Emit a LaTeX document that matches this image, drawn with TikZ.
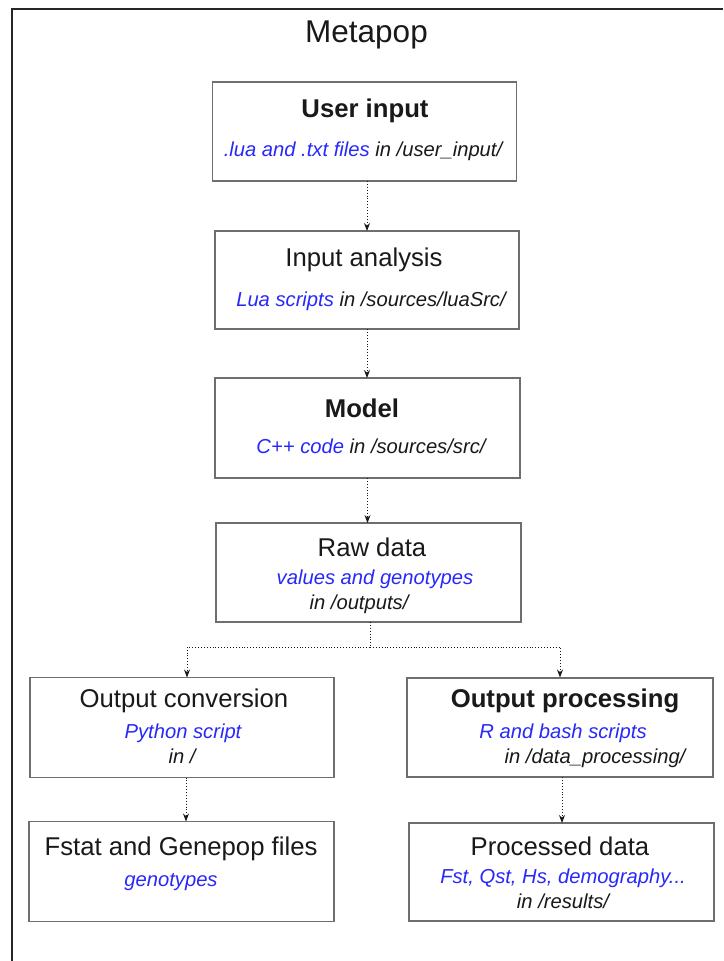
\documentclass[tikz,border=0pt]{standalone}
\usepackage{fontspec}
\setmainfont{Liberation Sans}
\usetikzlibrary{arrows.meta,calc}
\definecolor{linkblue}{RGB}{40,40,250}
\definecolor{boxgray}{RGB}{110,110,110}
\definecolor{txtdark}{RGB}{25,25,25}
\tikzset{
  stage/.style={draw=boxgray, line width=1.3pt, fill=white, rectangle,
                inner sep=0pt, outer sep=0pt},
  head/.style={anchor=base, inner sep=0pt, text=txtdark,
               font=\fontsize{25.7}{30}\selectfont},
  headbold/.style={head, font=\fontsize{25.7}{30}\selectfont\bfseries},
  note/.style={anchor=base, inner sep=0pt, text=txtdark,
               font=\fontsize{20.2}{24}\selectfont\itshape},
  flow/.style={draw=txtdark, line width=0.9pt, dotted,
               -{Stealth[length=8pt,width=6pt]}},
  flowline/.style={draw=txtdark, line width=0.9pt, dotted},
}
\newcommand{\hl}[1]{\textcolor{linkblue}{#1}}
\begin{document}
\begin{tikzpicture}[x=1pt,y=-1pt]
\useasboundingbox (0,0) rectangle (723,961);
% outer frame (open on the right and at the bottom)
\draw[line width=1.6pt, draw=black!85] (12,961) -- (12,9) -- (723,9);
\node[anchor=base, inner sep=0pt, text=txtdark,
      font=\fontsize{31.5}{36}\selectfont] (title) at (366.5,42) {Metapop};

% stages
\node[stage, minimum width=304pt, minimum height=99pt] (ui) at (364.5,131.5) {};
\node[stage, minimum width=304pt, minimum height=98pt] (ia) at (367,280) {};
\node[stage, minimum width=305pt, minimum height=100pt] (md) at (367.5,428) {};
\node[stage, minimum width=305pt, minimum height=99pt] (rd) at (368.5,572.5) {};
\node[stage, minimum width=304pt, minimum height=100pt] (oc) at (182,727.5) {};
\node[stage, minimum width=306pt, minimum height=99pt] (op) at (560,727.5) {};
\node[stage, minimum width=305pt, minimum height=100pt] (fs) at (181.5,871.5) {};
\node[stage, minimum width=305pt, minimum height=98pt] (pd) at (561.5,872) {};

% texts
\node[headbold] (uiT) at (365,117.5) {User input};
\node[note] (uiS) at (363,156.5) {\hl{.lua and .txt files} in /user\_input/};

\node[head] (iaT) at (364,266) {Input analysis};
\node[note] (iaS) at (371,306) {\hl{Lua scripts} in /sources/luaSrc/};

\node[headbold] (mdT) at (362,417) {Model};
\node[note] (mdS) at (371,453) {\hl{C++ code} in /sources/src/};

\node[head] (rdT) at (372,556) {Raw data};
\node[note] (rdS) at (375,584) {\hl{values and genotypes}};
\node[note] (rdS2) at (359,609) {in /outputs/};

\node[head] (ocT) at (184,707.5) {Output conversion};
\node[note] (ocS) at (183,738) {\hl{Python script}};
\node[note] (ocS2) at (182,763) {in /};

\node[headbold] (opT) at (565,707.5) {Output processing};
\node[note] (opS) at (563,738) {\hl{R and bash scripts}};
\node[note] (opS2) at (595,763) {in /data\_processing/};

\node[head] (fsT) at (181,855.5) {Fstat and Genepop files};
\node[note] (fsS) at (171,886) {\hl{genotypes}};

\node[head] (pdT) at (560,855.5) {Processed data};
\node[note] (pdS) at (563,883) {\hl{Fst, Qst, Hs, demography...}};
\node[note] (pdS2) at (563,908) {in /results/};

% connectors
\draw[flow] (ia.north |- ui.south) -- (ia.north);
\draw[flow] (ia.south) -- (ia.south |- md.north);
\draw[flow] (md.south) -- (md.south |- rd.north);

\coordinate (split) at (370,647);
\coordinate (leftIn) at (187,677.5);
\coordinate (rightIn) at (560,677.5);
\draw[flowline] (split |- rd.south) -- (split);
\draw[flow] (split) -- (split -| leftIn) -- (leftIn);
\draw[flow] (split) -- (split -| rightIn) -- (rightIn);

\coordinate (leftDown) at (186,821.5);
\coordinate (rightDown) at (562,823);
\draw[flow] (leftDown |- oc.south) -- (leftDown);
\draw[flow] (rightDown |- op.south) -- (rightDown);
\end{tikzpicture}
\end{document}
